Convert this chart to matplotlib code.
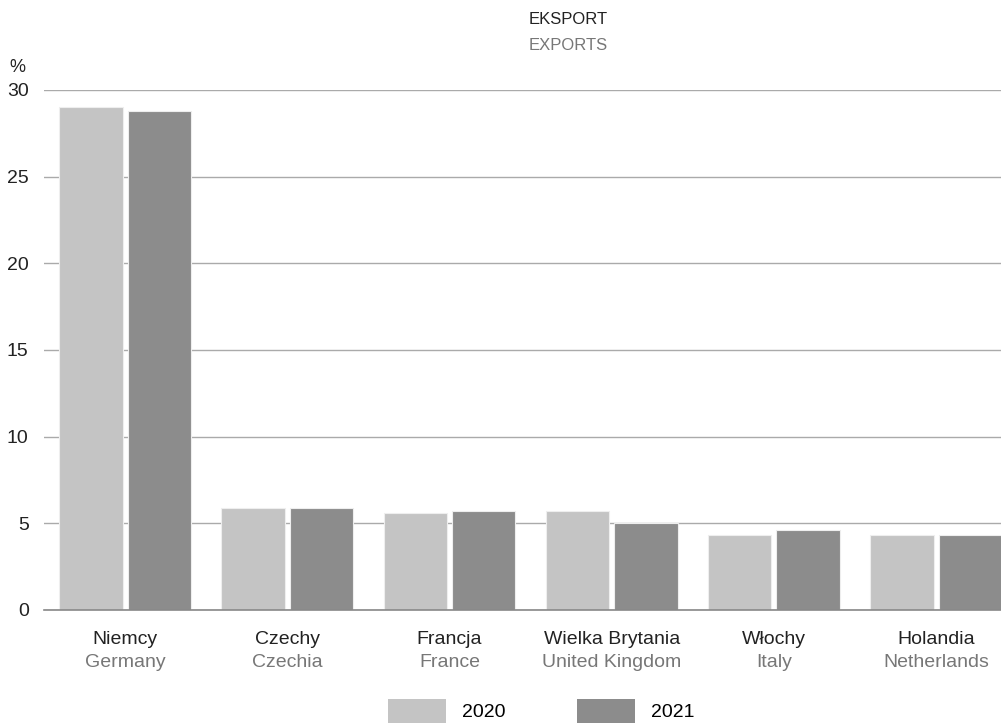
import matplotlib
matplotlib.use("Agg")
import matplotlib.pyplot as plt
import numpy as np
from matplotlib.patches import Patch

plt.rcParams['font.family'] = ['Liberation Sans', 'DejaVu Sans']

categories_pl = ["Niemcy", "Czechy", "Francja", "Wielka Brytania", "Włochy", "Holandia"]
categories_en = ["Germany", "Czechia", "France", "United Kingdom", "Italy", "Netherlands"]
values_2020 = [29.0, 5.9, 5.6, 5.7, 4.3, 4.3]
values_2021 = [28.8, 5.9, 5.7, 5.0, 4.6, 4.3]
series_labels = ["2020", "2021"]
yticks = [0, 5, 10, 15, 20, 25, 30]

c2020 = "#c4c4c4"
c2021 = "#8c8c8c"

fig = plt.figure(figsize=(10.01, 7.24), dpi=100)
W, H = 1001, 724
ax = fig.add_axes([44 / W, 1 - 610 / H, 1 - 44 / W, (610 - 90) / H])

x = np.arange(len(categories_pl))
bw = 0.39
off = 0.211
ax.bar(x - off, values_2020, width=bw, color=c2020, edgecolor="#eeeeee", linewidth=0.8, zorder=3, label=series_labels[0])
ax.bar(x + off, values_2021, width=bw, color=c2021, edgecolor="#eeeeee", linewidth=0.8, zorder=3, label=series_labels[1])

slot = 162.2
ax.set_xlim(-0.5, -0.5 + (W - 44) / slot)
ax.set_ylim(0, 30)
ax.set_yticks(yticks)
ax.set_yticklabels([str(t) for t in yticks], fontsize=14, color="#222222")
ax.tick_params(axis="y", length=0, pad=11)
ax.set_xticks([])
for s in ["top", "right", "left"]:
    ax.spines[s].set_visible(False)
ax.spines["bottom"].set_color("#888888")
ax.spines["bottom"].set_linewidth(1.2)
ax.spines["bottom"].set_zorder(4)
ax.yaxis.grid(True, color="#aaaaaa", linewidth=1.0, zorder=0)
ax.set_axisbelow(True)

for i in range(len(categories_pl)):
    ax.text(x[i], -1.68, categories_pl[i], ha="center", va="center", fontsize=14, color="#222222")
    ax.text(x[i], -3.05, categories_en[i], ha="center", va="center", fontsize=14, color="#777777")

fig.text(568 / W, 1 - 20 / H, "EKSPORT", ha="center", va="center", fontsize=12, color="#222222")
fig.text(568 / W, 1 - 45 / H, "EXPORTS", ha="center", va="center", fontsize=12, color="#777777")
fig.text(17 / W, 1 - 68 / H, "%", ha="center", va="center", fontsize=13, color="#222222")

handles = [Patch(facecolor=c2020, edgecolor="none"), Patch(facecolor=c2021, edgecolor="none")]
fig.legend(handles, series_labels, loc="center", bbox_to_anchor=(541.5 / W, 1 - 711 / H), ncol=2,
           frameon=False, fontsize=14, handlelength=3.0, handleheight=1.55,
           handletextpad=0.82, columnspacing=3.66, borderpad=0)

fig.savefig("out.png", dpi=100)
